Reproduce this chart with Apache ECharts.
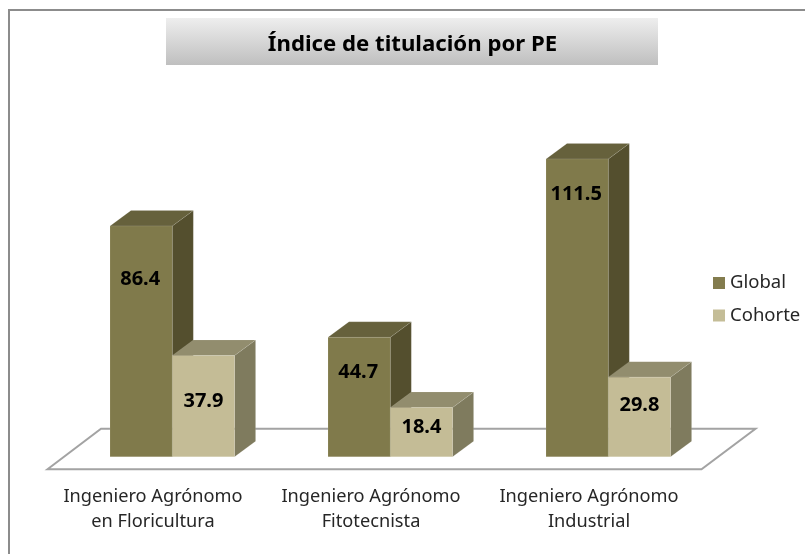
<!DOCTYPE html>
<html>
<head>
<meta charset="utf-8">
<style>html,body{margin:0;padding:0;background:#fff}#c{width:805px;height:554px}</style>
<script src="https://cdn.jsdelivr.net/npm/echarts@6/dist/echarts.min.js"></script>
</head>
<body>
<div id="c"></div>
<script>
const categories = ['Ingeniero Agrónomo\nen Floricultura', 'Ingeniero Agrónomo\nFitotecnista', 'Ingeniero Agrónomo\nIndustrial'];
const globalValues = [86.4, 44.7, 111.5];
const cohorteValues = [37.9, 18.4, 29.8];
const titleText = 'Índice de titulación por PE';

// Layout only: hand-placed label drops below each bar's top edge, in pixels
const globalLabelDrop = [53, 35, 35];
const cohorteLabelDrop = [46, 20, 28];

const FONT = '"Noto Sans", "Open Sans", sans-serif';
const DEPTH_X = 21, DEPTH_Y = 15.5, SHIFT_X = 19.3, BAR_RATIO = 0.2857;

function barRenderer(side, faces, drops) {
  return function (params, api) {
    const i = api.value(0), v = api.value(1);
    const band = api.size([1, 0])[0];
    const w = band * BAR_RATIO;
    const c = api.coord([i, v]), base = api.coord([i, 0]);
    const x0 = c[0] + SHIFT_X + (side < 0 ? -w : 0), x1 = x0 + w;
    const yT = c[1], yB = base[1];
    const poly = (pts, fill) => ({ type: 'polygon', shape: { points: pts }, style: { fill: fill, stroke: 'rgba(255,255,255,0.15)', lineWidth: 0.6 } });
    return {
      type: 'group',
      children: [
        poly([[x1, yT], [x1 + DEPTH_X, yT - DEPTH_Y], [x1 + DEPTH_X, yB - DEPTH_Y], [x1, yB]], faces.side),
        poly([[x0, yT], [x0 + DEPTH_X, yT - DEPTH_Y], [x1 + DEPTH_X, yT - DEPTH_Y], [x1, yT]], faces.top),
        poly([[x0, yT], [x1, yT], [x1, yB], [x0, yB]], faces.front),
        { type: 'text', style: { x: (x0 + x1) / 2 + (side < 0 ? -1 : 0), y: yT + drops[i], text: v.toFixed(1), align: 'center', verticalAlign: 'middle', fill: '#000', font: 'bold 20px ' + FONT } }
      ]
    };
  };
}

const chart = echarts.init(document.getElementById('c'), null, { renderer: 'canvas' });
chart.setOption({
  animation: false,
  backgroundColor: '#fff',
  graphic: [
    { type: 'polyline', silent: true, shape: { points: [[9, 554], [9, 10], [805, 10]] }, style: { fill: 'none', stroke: '#8c8c8c', lineWidth: 2 } },
    { type: 'rect', silent: true, z: -1, shape: { x: 166, y: 18, width: 492, height: 47 },
      style: { fill: new echarts.graphic.LinearGradient(0, 0, 0, 1, [{ offset: 0, color: '#eeeeee' }, { offset: 1, color: '#bfbfbf' }]) } }
  ],
  title: {
    text: titleText, left: 407.5, top: 39.5, textAlign: 'center', textVerticalAlign: 'middle',
    textStyle: { color: '#000', fontFamily: FONT, fontWeight: 'bold', fontSize: 22.2 }
  },
  legend: {
    orient: 'vertical', left: 708, top: 268, itemWidth: 12, itemHeight: 12, itemGap: 12.5,
    icon: 'rect', selectedMode: false, data: ['Global', 'Cohorte'],
    textStyle: { color: '#262626', fontFamily: FONT, fontSize: 18.5, lineHeight: 20 }
  },
  grid: { left: 44, width: 654, top: 136.3, height: 320.4 },
  xAxis: {
    type: 'category', data: categories,
    axisLine: { show: false }, axisTick: { show: false },
    axisLabel: { margin: 28, color: '#262626', fontFamily: FONT, fontSize: 18.2, lineHeight: 25, interval: 0 }
  },
  yAxis: { type: 'value', min: 0, max: 120, show: false, splitLine: { show: false } },
  series: [
    {
      type: 'custom', name: 'floor', silent: true, z: 1, data: [[0, 0]],
      renderItem(params, api) {
        const g = params.coordSys, zero = api.coord([0, 0])[1];
        const l = g.x + 3.5, r = g.x + g.width + 3.5;
        return { type: 'polygon', shape: { points: [[l, zero + 12.5], [l + 53.5, zero - 28], [r + 54, zero - 28], [r, zero + 12.5]] },
          style: { fill: '#fff', stroke: '#a3a3a3', lineWidth: 2 } };
      }
    },
    {
      type: 'custom', name: 'Global', z: 2, silent: true, itemStyle: { color: '#837C4E' },
      encode: { x: 0, y: 1 },
      data: globalValues.map((v, i) => [i, v]),
      renderItem: barRenderer(-1, { front: '#807A4B', top: '#66613C', side: '#544F2E' }, globalLabelDrop)
    },
    {
      type: 'custom', name: 'Cohorte', z: 3, silent: true, itemStyle: { color: '#C4BD97' },
      encode: { x: 0, y: 1 },
      data: cohorteValues.map((v, i) => [i, v]),
      renderItem: barRenderer(1, { front: '#C4BC96', top: '#928D6E', side: '#7F7B5E' }, cohorteLabelDrop)
    }
  ]
});
</script>
</body>
</html>
